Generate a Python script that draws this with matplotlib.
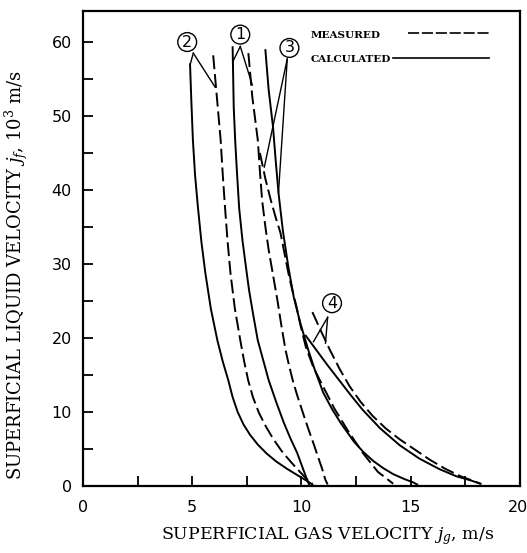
import matplotlib
matplotlib.use("Agg")
import matplotlib.pyplot as plt
import matplotlib.transforms as mtransforms
from matplotlib.ticker import MultipleLocator

plt.rcParams["lines.scale_dashes"] = False
plt.rcParams["mathtext.fontset"] = "dejavuserif"

# curve data, jg (m/s) vs jf (10^3 m/s)
g2_calc_x = [4.90, 4.96, 5.03, 5.13, 5.26, 5.42, 5.60, 5.85, 6.15, 6.40, 6.65, 6.85,
             7.08, 7.35, 7.65, 8.00, 8.40, 8.85, 9.35, 9.85, 10.30, 10.50]
g2_calc_y = [57.0, 52.0, 46.8, 42.0, 37.7, 33.0, 28.8, 24.0, 19.7, 16.8, 14.3, 12.0,
             10.0, 8.3, 6.9, 5.6, 4.4, 3.3, 2.3, 1.4, 0.6, 0.2]
g2_meas_x = [5.96, 6.10, 6.30, 6.40, 6.50, 6.62, 6.75, 6.95, 7.20, 7.38, 7.56, 7.78,
             8.05, 8.38, 8.72, 9.10, 9.50, 9.90, 10.25, 10.50]
g2_meas_y = [58.2, 53.5, 46.8, 42.0, 37.7, 33.0, 28.8, 24.0, 19.7, 16.8, 14.3, 12.0,
             9.9, 8.0, 6.3, 4.7, 3.3, 2.0, 0.9, 0.3]

g1_calc_x = [6.85, 6.90, 6.97, 7.05, 7.15, 7.30, 7.45, 7.60, 7.80, 8.00, 8.25, 8.50,
             8.85, 9.20, 9.50, 9.80, 10.05, 10.25, 10.35]
g1_calc_y = [59.3, 51.2, 46.5, 42.3, 37.5, 33.2, 29.8, 26.5, 23.0, 19.7, 17.0, 14.3,
             11.3, 8.5, 6.4, 4.5, 2.5, 0.9, 0.2]
g1_meas_x = [7.57, 7.75, 8.00, 8.10, 8.20, 8.35, 8.50, 8.70, 8.90, 9.08, 9.27, 9.43,
             9.60, 9.80, 10.00, 10.20, 10.40, 10.58, 10.75, 10.95, 11.10, 11.20]
g1_meas_y = [58.5, 52.6, 46.8, 42.5, 38.6, 35.0, 31.9, 28.5, 25.1, 21.7, 18.4, 16.3,
             14.3, 12.3, 10.5, 8.7, 7.0, 5.5, 4.0, 2.3, 0.8, 0.2]

g3_calc_x = [8.35, 8.50, 8.70, 8.82, 8.95, 9.15, 9.40, 9.65, 9.95, 10.30, 10.60, 11.00,
             11.40, 11.80, 12.40, 12.85, 13.30, 13.75, 14.20, 14.70, 15.10, 15.30]
g3_calc_y = [58.9, 53.5, 48.5, 44.0, 39.6, 34.5, 29.6, 25.5, 22.0, 18.5, 15.8, 12.6,
             10.4, 8.5, 6.0, 4.55, 3.35, 2.4, 1.6, 0.95, 0.5, 0.2]
g3_meas_x = [8.10, 8.35, 8.60, 8.82, 9.04, 9.22, 9.40, 9.57, 9.75, 9.95, 10.20, 10.55,
             11.00, 11.50, 12.10, 12.80, 13.50, 13.90, 14.20]
g3_meas_y = [45.0, 41.5, 38.6, 36.3, 34.2, 31.5, 28.8, 26.6, 24.5, 21.8, 18.8, 16.0,
             13.4, 10.5, 7.6, 4.5, 1.9, 1.0, 0.3]

g4_calc_x = [10.20, 10.70, 11.20, 11.70, 12.25, 12.80, 13.60, 14.50, 15.40, 16.30,
             17.10, 17.70, 18.20]
g4_calc_y = [20.3, 18.3, 16.3, 14.4, 12.3, 10.3, 7.8, 5.5, 3.7, 2.3, 1.3, 0.8, 0.3]
g4_meas_x = [10.50, 10.90, 11.30, 11.75, 12.20, 12.70, 13.25, 13.85, 14.50, 15.20,
             15.90, 16.60, 17.30, 17.85, 18.20]
g4_meas_y = [23.5, 20.9, 18.4, 15.8, 13.5, 11.4, 9.5, 7.8, 6.3, 4.9, 3.5, 2.3, 1.3,
             0.7, 0.3]

x_ticks = [0, 5, 10, 15, 20]
y_ticks = [0, 10, 20, 30, 40, 50, 60]

# curve labels: text, circle centre, leader start, leader ends
labels = ["2", "1", "3", "4"]
label_pos = [(4.77, 60.0), (7.2, 61.0), (9.45, 59.2), (11.4, 24.7)]
leader_from = [(5.05, 58.5), (7.2, 59.4), (9.35, 57.7), (11.2, 22.8)]
leader_to = [[(4.9, 56.9), (6.05, 53.9)],
             [(6.85, 57.3), (7.75, 54.2)],
             [(8.3, 43.1), (8.95, 39.7)],
             [(10.55, 19.5), (11.1, 19.3)]]

fig = plt.figure(figsize=(5.27, 5.53), dpi=100)
ax = fig.add_axes([0.1575, 0.1212, 0.829, 0.859])

dash = (0, (10, 3.5))
lw = 1.4
for cx, cy in [(g2_calc_x, g2_calc_y), (g1_calc_x, g1_calc_y),
               (g3_calc_x, g3_calc_y), (g4_calc_x, g4_calc_y)]:
    ax.plot(cx, cy, color="black", lw=lw, solid_joinstyle="round")
for mx, my in [(g2_meas_x, g2_meas_y), (g1_meas_x, g1_meas_y),
               (g3_meas_x, g3_meas_y), (g4_meas_x, g4_meas_y)]:
    ax.plot(mx, my, color="black", lw=lw, linestyle=dash)

for txt, pos, start, ends in zip(labels, label_pos, leader_from, leader_to):
    ax.text(pos[0], pos[1], txt, ha="center", va="center", fontsize=11.5,
            bbox=dict(boxstyle="circle,pad=0.12", fc="white", ec="black", lw=1.0))
    for e in ends:
        ax.plot([start[0], e[0]], [start[1], e[1]], color="black", lw=1.0)

# legend drawn as in the original
ax.text(10.4, 60.9, "MEASURED", fontsize=7.5, family="DejaVu Serif",
        weight="bold", va="center")
ax.plot([14.9, 18.6], [61.2, 61.2], color="black", lw=1.2, linestyle=(0, (8, 2)))
ax.text(10.4, 57.6, "CALCULATED", fontsize=7.5, family="DejaVu Serif",
        weight="bold", va="center")
ax.plot([14.2, 18.6], [57.8, 57.8], color="black", lw=1.2)

ax.set_xlim(0, 20)
ax.set_ylim(0, 64.2)
ax.set_xticks(x_ticks)
ax.set_yticks(y_ticks)
ax.xaxis.set_minor_locator(MultipleLocator(2.5))
ax.yaxis.set_minor_locator(MultipleLocator(5))
ax.tick_params(which="both", direction="in", length=7, width=1.3,
               labelsize=11.5, pad=8)
ax.tick_params(axis="x", pad=10)
for s in ax.spines.values():
    s.set_linewidth(1.6)

# the last x tick label sits right at the edge, nudge it in a little
last = ax.get_xticklabels()[-1]
last.set_horizontalalignment("right")
last.set_transform(last.get_transform() +
                   mtransforms.ScaledTranslation(8 / 100, 0, fig.dpi_scale_trans))

ax.set_xlabel("SUPERFICIAL GAS VELOCITY $j_g$, m/s", family="DejaVu Serif",
              fontsize=12.5)
ax.xaxis.set_label_coords(0.56, -0.082)
ax.set_ylabel("SUPERFICIAL LIQUID VELOCITY $j_f$, $10^3$ m/s",
              family="DejaVu Serif", fontsize=13)
ax.yaxis.set_label_coords(-0.122, 0.445)

fig.savefig("out.png", dpi=100)
